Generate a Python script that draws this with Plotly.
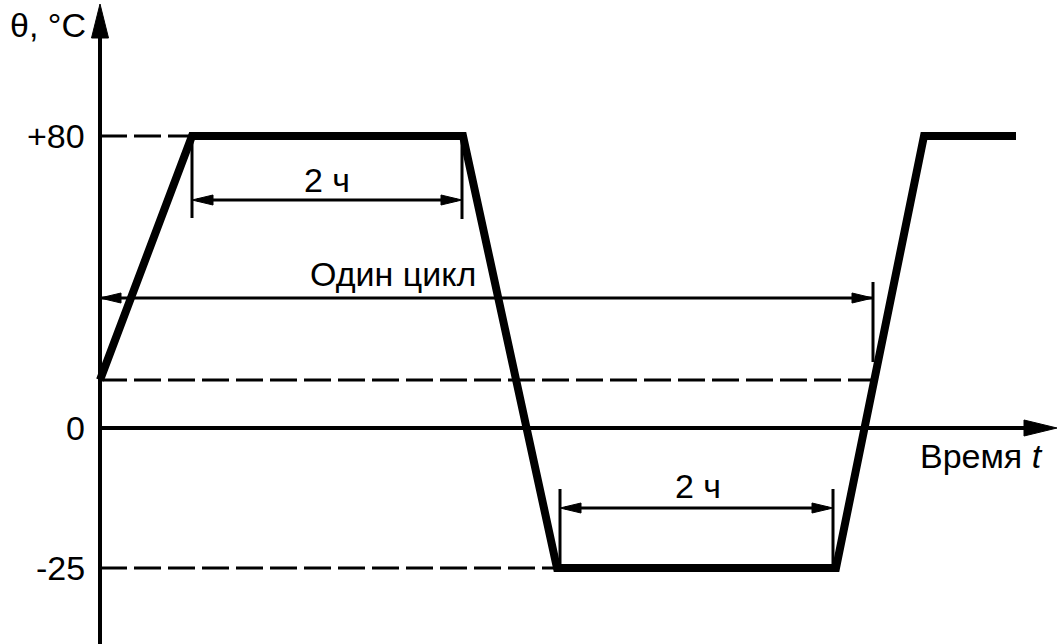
import plotly.graph_objects as go

# Schematic diagram coordinates (x: time units from the origin, y: level positions above the zero line)
t_points = [0, 92, 363, 457, 736, 824, 916]
level_top = 292      # +80 °C
level_start = 48     # start level
level_zero = 0       # 0 °C
level_bottom = -140  # -25 °C
curve_y = [level_start, level_top, level_top, level_bottom, level_bottom, level_top, level_top]

tick_positions = [level_top, level_zero, level_bottom]
tick_labels = ["+80", "0", "-25"]

dim_labels = ["2 ч", "Один цикл", "2 ч"]
axis_titles = ["θ, °C", "Время <i>t</i>"]

W, H = 1058, 644
X0, Y0 = 100, 428  # pixel position of the origin
xr = [-X0, W - X0]
yr = [Y0 - H, Y0]

FONT = "Liberation Sans, Arial, sans-serif"
FS = 34

fig = go.Figure()
shapes = []

def line(x0, y0, x1, y1, w=3, dash=None):
    d = dict(type="line", x0=x0, y0=y0, x1=x1, y1=y1, xref="x", yref="y",
             line=dict(color="black", width=w))
    if dash:
        d["line"]["dash"] = dash
    shapes.append(d)

def tri(tx, ty, dx, dy, length, half):
    # filled arrowhead with tip at (tx, ty) pointing in direction (dx, dy)
    bx, by = tx - dx * length, ty - dy * length
    px, py = -dy, dx
    p1 = (bx + px * half, by + py * half)
    p2 = (bx - px * half, by - py * half)
    shapes.append(dict(type="path", xref="x", yref="y",
                       path=f"M {tx} {ty} L {p1[0]} {p1[1]} L {p2[0]} {p2[1]} Z",
                       fillcolor="black", line=dict(color="black", width=1)))

# axes
y_top_tip = Y0 - 4
line(0, Y0 - H, 0, y_top_tip - 30, w=4)
tri(0, y_top_tip, 0, 1, 34, 8.5)
x_tip = W - 1 - X0
line(0, 0, x_tip - 30, 0, w=4)
tri(x_tip, 0, 1, 0, 33, 8)

# dashed reference lines
DASH = "27px,7px"
line(0, level_top, t_points[1], level_top, w=3, dash=DASH)
line(0, level_start, 775, level_start, w=3, dash=DASH)
line(0, level_bottom, t_points[3], level_bottom, w=3, dash=DASH)

# dimension: upper 2 h
ya = Y0 - 200
line(t_points[1], level_top, t_points[1], Y0 - 218)
line(362, level_top, 362, Y0 - 219)
line(t_points[1] + 5, ya, 362 - 5, ya)
tri(t_points[1], ya, -1, 0, 21, 5)
tri(362, ya, 1, 0, 21, 5)

# dimension: one cycle
yc = Y0 - 298
line(0, yc, 773, yc)
tri(0, yc, -1, 0, 21, 5)
tri(773, yc, 1, 0, 21, 5)
line(773, Y0 - 282, 773, Y0 - 362)

# dimension: lower 2 h
yb = Y0 - 508
line(460, level_bottom, 460, Y0 - 489)
line(733, level_bottom, 733, Y0 - 489)
line(465, yb, 728, yb)
tri(460, yb, -1, 0, 21, 5)
tri(733, yb, 1, 0, 21, 5)

# main curve
fig.add_trace(go.Scatter(x=t_points, y=curve_y, mode="lines",
                         line=dict(color="black", width=8), hoverinfo="skip",
                         showlegend=False))

annotations = []
def text(x, y, s, xanchor="center"):
    annotations.append(dict(x=x, y=y, xref="x", yref="y", text=s, showarrow=False,
                            xanchor=xanchor, yanchor="middle",
                            font=dict(family=FONT, size=FS, color="black")))

for pos, lab in zip(tick_positions, tick_labels):
    text(-13, pos, lab, xanchor="right")

text(227, Y0 - 180, dim_labels[0])
text(293, Y0 - 274, dim_labels[1])
text(598, Y0 - 486, dim_labels[2])
text(-52, Y0 - 25, axis_titles[0])
text(881, Y0 - 456, axis_titles[1])

fig.update_layout(
    width=W, height=H,
    margin=dict(l=0, r=0, t=0, b=0),
    paper_bgcolor="white", plot_bgcolor="white",
    xaxis=dict(range=xr, visible=False, fixedrange=True),
    yaxis=dict(range=yr, visible=False, fixedrange=True),
    shapes=shapes, annotations=annotations,
    showlegend=False,
)

fig.write_html("out.html", config={"displayModeBar": False},
               post_script="document.body.style.margin='0';document.body.style.overflow='hidden';")
